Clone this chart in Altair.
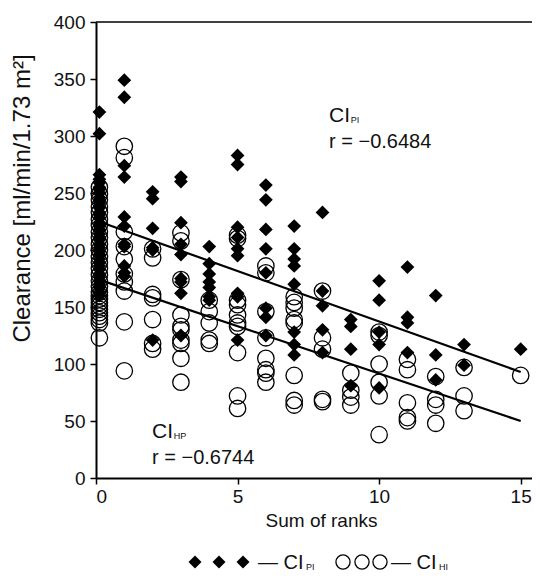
import altair as alt
import pandas as pd

FONT = "Liberation Sans, Arial, sans-serif"
INK = "#111111"

# Clearance CI_PI (filled diamonds) by sum of ranks
pi_values = {
    0: [321, 302, 266, 262, 259, 255, 253, 250, 246, 243, 241, 237, 233, 231, 228, 224, 221, 218,
        214, 211, 209, 205, 202, 199, 196, 192, 189, 186, 183, 179, 176, 173, 170, 167, 163, 160],
    1: [349, 334, 274, 264, 229, 221, 205, 203, 186, 180, 177],
    2: [251, 245, 219, 202, 200, 121],
    3: [264, 260, 224, 205, 196, 175, 172, 162, 125],
    4: [203, 188, 179, 172, 167, 159, 156],
    5: [283, 275, 220, 211, 201, 195, 162, 159, 121],
    6: [257, 244, 218, 201, 180, 149, 141, 125],
    7: [221, 201, 192, 186, 170, 128, 117, 108],
    8: [233, 164, 151, 130, 110],
    9: [139, 133, 113, 81],
    10: [173, 156, 128, 117, 79],
    11: [185, 141, 136, 110],
    12: [160, 108, 86],
    13: [117, 99],
    15: [113],
}

# Clearance CI_HP (open circles) by sum of ranks
hp_values = {
    0: [255, 249, 244, 238, 233, 227, 222, 216, 211, 205, 200, 194, 189, 184, 178, 173, 168, 163,
        160, 157, 154, 151, 148, 145, 142, 139, 136, 123],
    1: [291, 281, 216, 203, 192, 179, 172, 164, 137, 94],
    2: [201, 193, 161, 158, 139, 118, 113],
    3: [215, 208, 174, 143, 133, 130, 121, 118, 105, 84],
    4: [156, 146, 136, 121, 118],
    5: [213, 210, 156, 152, 143, 136, 133, 110, 72, 61],
    6: [186, 180, 146, 123, 105, 95, 92, 84],
    7: [159, 154, 149, 139, 136, 90, 68, 64],
    8: [164, 123, 113, 69, 67],
    9: [92, 77, 71, 64],
    10: [128, 125, 100, 84, 72, 38],
    11: [104, 95, 66, 53, 50],
    12: [89, 69, 64, 48],
    13: [97, 72, 59],
    15: [90],
}

# regression lines (end points)
fit_rank = [0.1, 15]
pi_fit = [225, 93]
hp_fit = [174, 50]

x_ticks = [0, 5, 10, 15]
y_ticks = [0, 50, 100, 150, 200, 250, 300, 350, 400]

rows = []
for r, vals in pi_values.items():
    for v in vals:
        rows.append({"rank": r, "value": v, "series": "PI"})
for r, vals in hp_values.items():
    for v in vals:
        rows.append({"rank": r, "value": v, "series": "HP"})
df = pd.DataFrame(rows)

line_df = pd.DataFrame({
    "rank": fit_rank + fit_rank,
    "value": pi_fit + hp_fit,
    "series": ["PI", "PI", "HP", "HP"],
})

x_scale = alt.Scale(domain=[0, 15.4], nice=False, zero=False)
y_scale = alt.Scale(domain=[0, 400], nice=False)

x_axis = alt.Axis(values=x_ticks, title="Sum of ranks", titlePadding=5, labelPadding=3,
                  titleX=225, titleFontSize=19)
y_axis = alt.Axis(values=y_ticks, title="Clearance [ml/min/1.73 m²]", labelPadding=5,
                  titleX=-62, titleY=176, titleAlign="center", titleBaseline="bottom",
                  titleFontSize=24)

base = alt.Chart(df).transform_calculate(xpos="datum.rank == 0 ? 0.12 : datum.rank")

circles = base.transform_filter(alt.datum.series == "HP").mark_point(
    shape="circle", filled=False, color="black", strokeWidth=1.3, size=270, opacity=1
).encode(
    x=alt.X("xpos:Q", scale=x_scale, axis=x_axis),
    y=alt.Y("value:Q", scale=y_scale, axis=y_axis),
)

lines = alt.Chart(line_df).mark_line(color="black", strokeWidth=2.2).encode(
    x=alt.X("rank:Q", scale=x_scale),
    y=alt.Y("value:Q", scale=y_scale),
    detail="series:N",
)

diamonds = base.transform_filter(alt.datum.series == "PI").mark_point(
    shape="diamond", filled=True, color="black", size=190, opacity=1
).encode(
    x=alt.X("xpos:Q", scale=x_scale),
    y=alt.Y("value:Q", scale=y_scale),
)

one = pd.DataFrame({"k": [0]})

top_rule = alt.Chart(one).mark_rule(color="black", strokeWidth=1.6).encode(y=alt.datum(400))


def note(text, x, y, size):
    return alt.Chart(one).mark_text(
        text=text, align="left", baseline="alphabetic", font=FONT, fontSize=size, color=INK
    ).encode(x=alt.datum(x), y=alt.datum(y))


notes = [
    note("CI", 8.23, 312.5, 21),
    note("PI", 9.0, 311, 9),
    note("r = \u22120.6484", 8.23, 289.2, 20),
    note("CI", 1.98, 35.1, 21),
    note("HP", 2.75, 34, 9),
    note("r = \u22120.6744", 1.98, 12.3, 20),
]


def leg_text(text, px, py, size):
    return alt.Chart(one).mark_text(
        text=text, align="left", baseline="alphabetic", font=FONT, fontSize=size, color=INK
    ).encode(x=alt.value(px), y=alt.value(py))


def leg_sym(shape, filled, px, py):
    return alt.Chart(one).mark_point(
        shape=shape, filled=filled, color="black", size=170 if filled else 200,
        strokeWidth=1.3, opacity=1
    ).encode(x=alt.value(px), y=alt.value(py))


legend = [
    leg_sym("diamond", True, 99, 540),
    leg_sym("diamond", True, 123, 540),
    leg_sym("diamond", True, 147, 540),
    leg_text("\u2014 CI", 162, 547, 20),
    leg_text("PI", 210, 548, 9),
    leg_sym("circle", False, 247, 540),
    leg_sym("circle", False, 266, 540),
    leg_sym("circle", False, 284, 540),
    leg_text("\u2014 CI", 295, 547, 20),
    leg_text("HI", 343, 548, 9),
]

chart = alt.layer(circles, lines, diamonds, top_rule, *notes, *legend).properties(
    width=436,
    height=456,
    padding={"left": 88, "top": 14, "right": 0, "bottom": 96},
    autosize=alt.AutoSizeParams(type="none"),
).configure_view(
    stroke=None
).configure_axis(
    grid=False,
    domainColor="black",
    domainWidth=2,
    tickColor="black",
    tickWidth=1.5,
    tickSize=6,
    labelFont=FONT,
    titleFont=FONT,
    labelFontSize=19,
    titleFontSize=19,
    titleFontWeight="normal",
    labelColor=INK,
    titleColor=INK,
)

chart.save("out.html", embed_options={"renderer": "svg", "actions": False})
